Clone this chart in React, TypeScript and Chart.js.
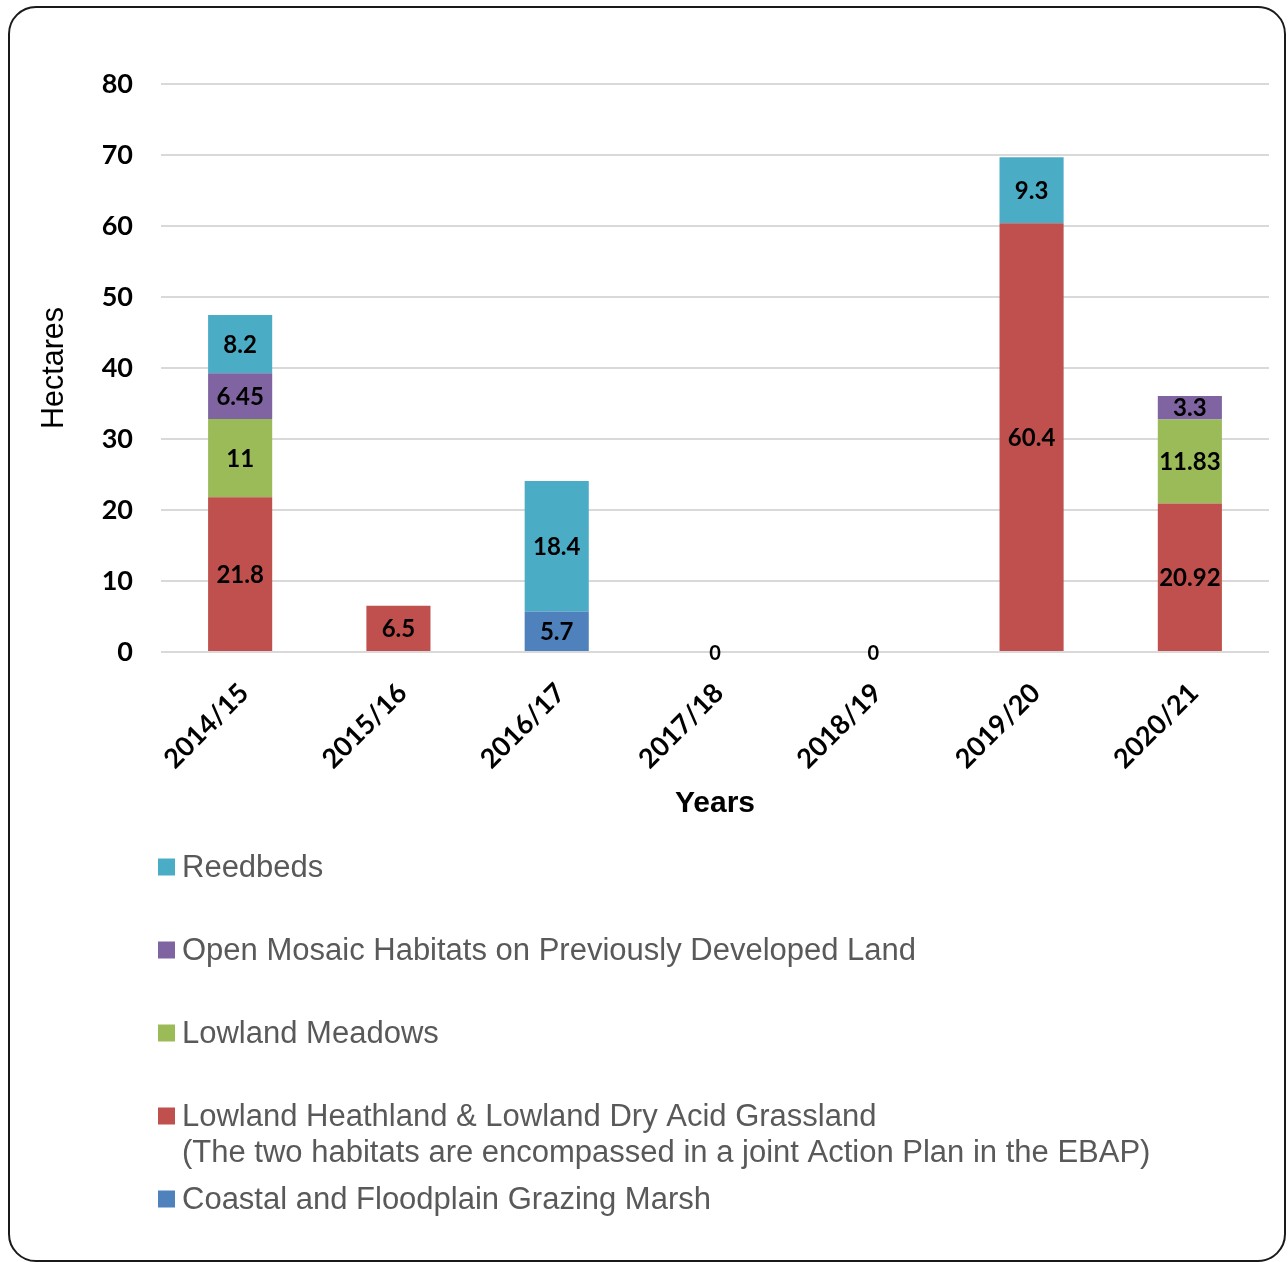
import React, { useEffect, useRef } from "react";
import { Chart, registerables } from "chart.js";

Chart.register(...registerables);

// ---------- data ----------
const categories = ["2014/15", "2015/16", "2016/17", "2017/18", "2018/19", "2019/20", "2020/21"];

const coastalMarsh = [0, 0, 5.7, 0, 0, 0, 0];
const lowlandHeathland = [21.8, 6.5, 0, 0, 0, 60.4, 20.92];
const lowlandMeadows = [11, 0, 0, 0, 0, 0, 11.83];
const openMosaic = [6.45, 0, 0, 0, 0, 0, 3.3];
const reedbeds = [8.2, 0, 18.4, 0, 0, 9.3, 0];

const seriesNames = [
  "Coastal and Floodplain Grazing Marsh",
  "Lowland Heathland & Lowland Dry Acid Grassland",
  "Lowland Meadows",
  "Open Mosaic Habitats on Previously Developed Land",
  "Reedbeds",
];
const seriesNotes = ["", "(The two habitats are encompassed in a joint Action Plan in the EBAP)", "", "", ""];
const seriesColors = ["#4F81BD", "#C0504D", "#9BBB59", "#8064A2", "#4BACC6"];

const yMin = 0;
const yMax = 80;
const yStep = 10;

const yTitle = "Hectares";
const xTitle = "Years";

// ---------- layout constants ----------
const CANVAS_W = 1274;
const CANVAS_H = 1252;
const LEGEND_X = 148;
const LEGEND_TOP = 859;
const LEGEND_GAP = 83;
const LEGEND_LINE = 36;

const labelPlugin = {
  id: "valueLabels",
  afterDatasetsDraw(chart: any) {
    const ctx = chart.ctx;
    ctx.save();
    ctx.fillStyle = "#000";
    ctx.textAlign = "center";
    ctx.textBaseline = "middle";
    ctx.font = "bold 24px Lato, 'Open Sans', sans-serif";
    chart.data.datasets.forEach((ds: any, d: number) => {
      const meta = chart.getDatasetMeta(d);
      ds.data.forEach((v: number, i: number) => {
        if (!v) return;
        const el = meta.data[i];
        const p = el.getProps(["x", "y", "base"], true);
        ctx.fillText(String(v), p.x, (p.y + p.base) / 2 + 1);
      });
    });
    // zero totals
    const xs = chart.scales.x;
    const ys = chart.scales.y;
    ctx.font = "bold 20px Lato, 'Open Sans', sans-serif";
    categories.forEach((_c, i) => {
      const total = chart.data.datasets.reduce((s: number, ds: any) => s + (ds.data[i] || 0), 0);
      if (total === 0) {
        ctx.fillText("0", xs.getPixelForValue(i), ys.getPixelForValue(0) + 2);
      }
    });
    ctx.restore();
  },
};

const legendPlugin = {
  id: "customLegend",
  afterDraw(chart: any) {
    const ctx = chart.ctx;
    ctx.save();
    ctx.textAlign = "left";
    ctx.textBaseline = "middle";
    ctx.font = "31px 'Liberation Sans', Arial, sans-serif";
    const order = chart.data.datasets.map((_d: any, i: number) => i).reverse();
    order.forEach((idx: number, k: number) => {
      const ds = chart.data.datasets[idx];
      const y = LEGEND_TOP + k * LEGEND_GAP;
      ctx.fillStyle = ds.backgroundColor;
      ctx.fillRect(LEGEND_X, y - 8.5, 17, 17);
      ctx.fillStyle = "#595959";
      ctx.fillText(ds.label, LEGEND_X + 24, y + 1);
      const note = seriesNotes[idx];
      if (note) ctx.fillText(note, LEGEND_X + 24, y + 1 + LEGEND_LINE);
    });
    ctx.restore();
  },
};

export default function App() {
  const ref = useRef<HTMLCanvasElement | null>(null);

  useEffect(() => {
    if (!ref.current) return;
    const seriesData = [coastalMarsh, lowlandHeathland, lowlandMeadows, openMosaic, reedbeds];
    const chart = new Chart(ref.current, {
      type: "bar",
      data: {
        labels: categories,
        datasets: seriesData.map((d, i) => ({
          label: seriesNames[i],
          data: d,
          backgroundColor: seriesColors[i],
          borderWidth: 0,
          barPercentage: 0.405,
          categoryPercentage: 1,
        })),
      },
      options: {
        animation: false,
        responsive: false,
        devicePixelRatio: 1,
        layout: { padding: { left: 0, top: 76, right: 15, bottom: 428 } },
        plugins: {
          legend: { display: false },
          tooltip: { enabled: false },
          title: { display: false },
        },
        scales: {
          x: {
            stacked: true,
            grid: { display: false, drawTicks: false },
            border: { display: false },
            ticks: {
              minRotation: 45,
              maxRotation: 45,
              padding: 25,
              labelOffset: 4,
              color: "#000",
              font: { family: "Lato, 'Open Sans', sans-serif", size: 27, weight: "bold" },
            },
            title: {
              display: true,
              text: xTitle,
              color: "#000",
              font: { family: "'Liberation Sans', Arial, sans-serif", size: 30, weight: "bold" },
              padding: { top: 0, bottom: 10 },
            },
            afterFit: (s: any) => {
              s.height = 180;
              s.paddingLeft = 0;
              s.paddingRight = 0;
            },
          },
          y: {
            stacked: true,
            min: yMin,
            max: yMax,
            grid: { color: "#D9D9D9", lineWidth: 2, drawTicks: false },
            border: { display: false },
            ticks: {
              stepSize: yStep,
              padding: 28,
              color: "#000",
              font: { family: "Lato, 'Open Sans', sans-serif", size: 27, weight: "bold" },
            },
            title: {
              display: true,
              text: yTitle,
              color: "#000",
              font: { family: "'Liberation Sans', Arial, sans-serif", size: 30.5, weight: "normal" },
              padding: { top: 26, bottom: 0 },
            },
            afterFit: (s: any) => {
              s.width = 151;
              s.paddingTop = 0;
              s.paddingBottom = 0;
            },
          },
        },
      },
      plugins: [labelPlugin, legendPlugin],
    });
    return () => chart.destroy();
  }, []);

  return (
    <div
      style={{
        position: "absolute",
        left: 8,
        top: 6,
        width: 1278,
        height: 1256,
        boxSizing: "border-box",
        border: "2px solid #1a1a1a",
        borderRadius: 28,
        overflow: "hidden",
        background: "#fff",
      }}
    >
      <canvas ref={ref} width={CANVAS_W} height={CANVAS_H} style={{ display: "block" }} />
    </div>
  );
}
